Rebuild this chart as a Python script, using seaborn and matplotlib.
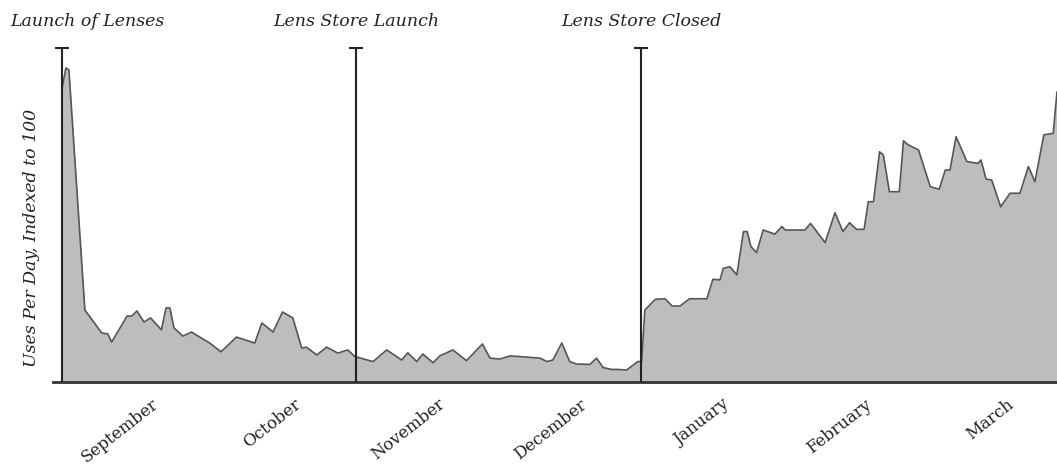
import pandas as pd
import seaborn as sns
import matplotlib.pyplot as plt

# days since the launch of lenses, and daily uses indexed to 100
days = [0, 0.85, 1.5, 4.9, 8.5, 9.8, 10.6, 13.9, 14.9, 16.0, 17.5, 18.9, 21.2, 22.2, 23.0,
        23.9, 25.8, 27.6, 31.5, 33.9, 37.2, 41.1, 42.6, 45.0, 47.0, 49.2, 51.1, 52.1, 54.3,
        56.4, 58.8, 60.9, 62.4, 66.3, 69.2, 72.4, 73.7, 75.6, 76.9, 79.1, 80.5, 83.3, 86.2,
        89.6, 91.2, 93.3, 95.5, 101.9, 103.3, 104.6, 106.5, 108.2, 109.7, 112.5, 113.9,
        115.3, 117.1, 118.5, 120.3, 122.7, 123.5, 124.2, 126.4, 128.5, 130.0, 131.7, 133.7,
        137.4, 138.7, 140.2, 140.9, 142.3, 143.8, 145.2, 146.0, 146.8, 148.0, 149.4, 151.9,
        153.4, 154.1, 158.3, 159.5, 162.6, 164.7, 166.4, 167.8, 169.3, 170.9, 171.8, 172.9,
        174.2, 175.0, 176.3, 178.4, 179.3, 180.3, 182.5, 185.0, 186.9, 188.2, 189.2, 190.5,
        192.8, 195.2, 195.8, 196.9, 198.1, 200.0, 202.0, 204.1, 205.9, 207.3, 209.2, 211.2,
        212.0]
uses = [93.0, 100.0, 99.4, 22.9, 15.6, 15.3, 12.7, 21.0, 21.0, 22.6, 19.1, 20.4, 16.6, 23.6,
        23.6, 17.2, 14.6, 15.9, 12.4, 9.6, 14.3, 12.4, 18.8, 15.9, 22.3, 20.4, 10.8, 11.1,
        8.6, 11.1, 9.2, 10.2, 8.1, 6.5, 10.2, 7.0, 9.3, 6.5, 8.9, 6.1, 8.3, 10.2, 6.8, 12.1,
        7.6, 7.3, 8.3, 7.6, 6.5, 7.0, 12.4, 6.5, 5.7, 5.6, 7.6, 4.6, 4.0, 4.0, 3.8, 6.5, 6.5,
        22.9, 26.3, 26.5, 24.2, 24.2, 26.5, 26.5, 32.7, 32.5, 36.2, 36.7, 34.1, 47.9, 47.9,
        43.1, 41.2, 48.4, 47.1, 49.5, 48.4, 48.4, 50.5, 44.4, 53.9, 47.9, 50.7, 48.6, 48.6,
        57.4, 57.4, 73.3, 72.3, 60.6, 60.6, 76.8, 75.5, 73.9, 62.2, 61.4, 67.5, 67.5, 78.1,
        70.2, 69.6, 70.7, 64.6, 64.3, 55.8, 60.1, 60.1, 68.6, 63.8, 78.7, 79.2, 92.4]

event_days = [0, 62.7, 123.4]
event_labels = ["Launch of Lenses", "Lens Store Launch", "Lens Store Closed"]

month_days = [19, 49.5, 80, 110.3, 140.6, 171, 201.3]
month_labels = ["September", "October", "November", "December", "January", "February", "March"]

df = pd.DataFrame({"day": days, "uses": uses})

sns.set_style("white")
plt.rcParams["font.family"] = ["DejaVu Serif"]

fig = plt.figure(figsize=(10.57, 4.66), dpi=100)
ax = fig.add_axes([0.0501, 0.1803, 0.9499, 0.721])

ax.fill_between(df["day"], df["uses"], color="#bdbdbd", lw=0)
sns.lineplot(data=df, x="day", y="uses", ax=ax, color="#555555", lw=1.2)

top = 106.4
for d, lab in zip(event_days, event_labels):
    ax.vlines(d, 0, top, color="#222222", lw=1.5, zorder=4)
    ax.plot([d], [top], marker="_", ms=10, mew=1.5, color="#222222", zorder=4)
    if d == 0:
        ax.annotate(lab, xy=(d, top), xytext=(-37, 19), textcoords="offset points",
                    ha="left", va="center", fontsize=12.5, style="italic", color="#222222",
                    annotation_clip=False)
    else:
        ax.annotate(lab, xy=(d, top), xytext=(0, 19), textcoords="offset points",
                    ha="center", va="center", fontsize=12.5, style="italic", color="#222222",
                    annotation_clip=False)

ax.set_xlim(-1.9, 212)
ax.set_ylim(0, 107)
ax.set_xticks(month_days)
ax.set_xticklabels(month_labels, rotation=38, ha="right", rotation_mode="anchor",
                   fontsize=12, color="#222222")
ax.tick_params(axis="x", length=0, pad=10)
ax.set_yticks([])
ax.set_xlabel("")
ax.set_ylabel("Uses Per Day, Indexed to 100", fontsize=12.5, style="italic",
              color="#222222")
ax.yaxis.set_label_coords(-0.013, 0.43)

for s in ["top", "right", "left"]:
    ax.spines[s].set_visible(False)
ax.spines["bottom"].set_color("#333333")
ax.spines["bottom"].set_linewidth(2)

fig.savefig("out.png", dpi=100)
